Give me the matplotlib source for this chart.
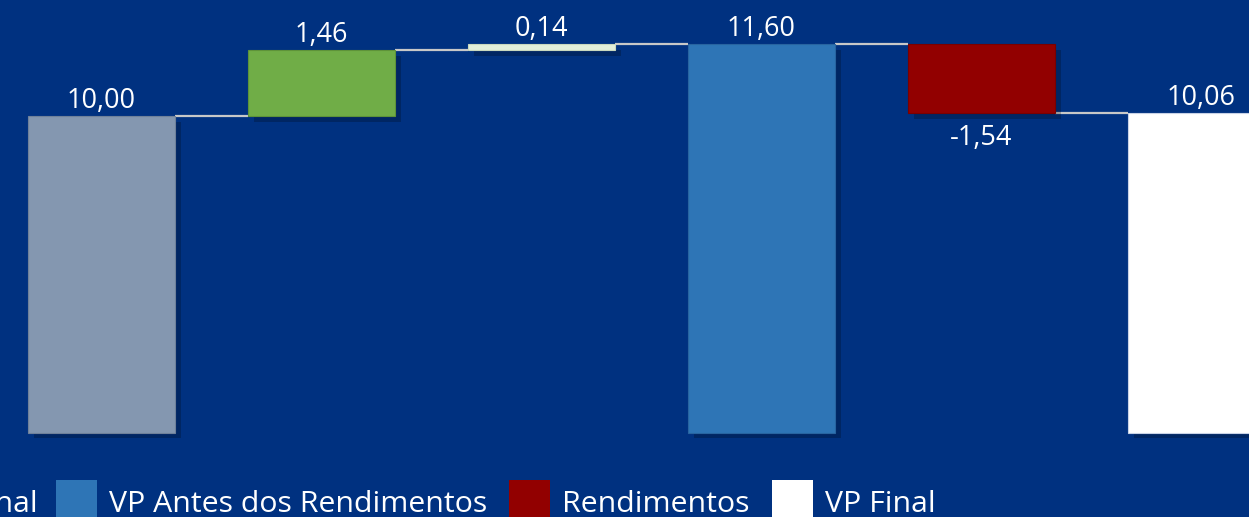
import matplotlib
matplotlib.use("Agg")
import matplotlib.pyplot as plt
import matplotlib.patheffects as pe
from matplotlib.patches import Rectangle
import numpy as np

# waterfall steps (values as shown on the chart)
categories = ["VP Inicial", "Aportes", "Aporte Adicional", "VP Antes dos Rendimentos", "Rendimentos", "VP Final"]
values = [10.00, 1.46, 0.14, 11.60, -1.54, 10.06]
is_total = [True, False, False, True, False, True]
colors = ["#8497B0", "#70AD47", "#E2EFDA", "#2E75B6", "#920000", "#FFFFFF"]
edges = ["#6F819A", "#5E9339", "#C9D8BE", "#2864A0", "#7A0000", "#C8D2E6"]

bg = "#003180"
axis_min = 2.96

plt.rcParams['font.family'] = ['Open Sans', 'DejaVu Sans']

fig = plt.figure(figsize=(12.49, 5.17), dpi=100, facecolor=bg)
ax = fig.add_axes([0, 0, 1, 1])
ax.set_facecolor(bg)
ax.set_xlim(-0.4614, 5.216)
ax.set_ylim(10 - 401 / 45, 10 + 116 / 45)
ax.axis("off")

x = np.arange(len(values))
width = 0.668
shadow = [pe.SimplePatchShadow(offset=(4, -4), shadow_rgbFace="black", alpha=0.22), pe.Normal()]

running = 0.0
tops = []
for i, v in enumerate(values):
    if is_total[i]:
        bottom, height = axis_min, v - axis_min
        running = v
        level = v
    else:
        start = running
        running = start + v
        bottom, height = min(start, running), abs(v)
        level = running
    b = ax.bar(x[i], height, bottom=bottom, width=width, color=colors[i],
               edgecolor=edges[i], linewidth=0.8, zorder=3)
    for p in b:
        p.set_path_effects(shadow)
    tops.append(level)
    txt = f"{v:.2f}".replace(".", ",")
    if v >= 0:
        ax.annotate(txt, (x[i], bottom + height), xytext=(0, 0.8), textcoords="offset points",
                    ha="center", va="bottom", color="white", fontsize=19.5, zorder=5)
    else:
        ax.annotate(txt, (x[i], bottom), xytext=(0, -8), textcoords="offset points",
                    ha="center", va="top", color="white", fontsize=19.5, zorder=5)

# connector lines between bars
for i in range(len(values) - 1):
    ax.plot([x[i] + width / 2, x[i + 1] - width / 2], [tops[i], tops[i]],
            color="#C8C8C8", lw=1.6, zorder=2, solid_capstyle="butt")

# legend along the bottom; the source is cropped, only "...nal" of the
# third entry is visible at the left edge
fig.canvas.draw()
renderer = fig.canvas.get_renderer()
sq, gap_txt, gap_next = 41, 12, 22
fs = 21.8
W, H = fig.bbox.width, fig.bbox.height

first = 2
t = fig.text(38 / W, (H - 512) / H, categories[first], fontsize=fs, color="white",
             ha="right", va="baseline")
cur = 38 + 18
for name, c in zip(categories[first + 1:], colors[first + 1:]):
    fig.patches.append(Rectangle((cur / W, (H - 520) / H), sq / W, 40 / H,
                                 transform=fig.transFigure, facecolor=c, edgecolor="none"))
    t = fig.text((cur + sq + gap_txt) / W, (H - 512) / H, name, fontsize=fs, color="white",
                 ha="left", va="baseline")
    tw = t.get_window_extent(renderer).width
    cur = cur + sq + gap_txt + tw + gap_next

fig.savefig("out.png", dpi=100, facecolor=bg)
